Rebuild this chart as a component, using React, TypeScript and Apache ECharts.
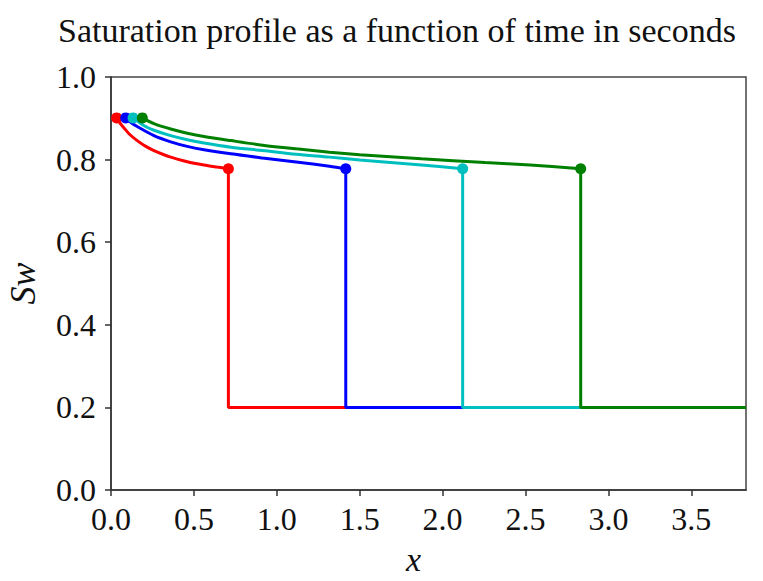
import React, { useEffect, useRef } from "react";
import * as echarts from "echarts";

const titleText = "Saturation profile as a function of time in seconds";
const xTicks = [0, 0.5, 1.0, 1.5, 2.0, 2.5, 3.0, 3.5];
const yTicks = [0, 0.2, 0.4, 0.6, 0.8, 1.0];
const xMax = 3.83;
const sInitial = 0.2;

const seriesNames = ["t1", "t2", "t3", "t4"];
const seriesColors = ["#ff0000", "#0000ff", "#00bfbf", "#008000"];

// rarefaction parts (x, Sw)
const redX = [0.034, 0.055, 0.08, 0.11, 0.158, 0.21, 0.259, 0.36, 0.46, 0.561, 0.64, 0.708];
const redY = [0.901, 0.888, 0.876, 0.862, 0.846, 0.832, 0.822, 0.806, 0.795, 0.787, 0.782, 0.778];
const blueX = [0.089, 0.12, 0.158, 0.259, 0.36, 0.46, 0.561, 0.723, 0.914, 1.117, 1.318, 1.416];
const blueY = [0.901, 0.89, 0.88, 0.858, 0.843, 0.832, 0.824, 0.814, 0.804, 0.794, 0.784, 0.778];
const cyanX = [0.133, 0.2, 0.259, 0.36, 0.46, 0.561, 0.723, 0.914, 1.117, 1.318, 1.5, 1.872, 2.121];
const cyanY = [0.901, 0.882, 0.871, 0.858, 0.848, 0.84, 0.83, 0.822, 0.813, 0.806, 0.799, 0.787, 0.778];
const greenX = [0.189, 0.259, 0.36, 0.46, 0.561, 0.723, 0.914, 1.117, 1.318, 1.5, 1.872, 2.255, 2.528, 2.833];
const greenY = [0.901, 0.887, 0.874, 0.864, 0.856, 0.846, 0.835, 0.826, 0.818, 0.812, 0.802, 0.793, 0.787, 0.778];

const curvesX = [redX, blueX, cyanX, greenX];
const curvesY = [redY, blueY, cyanY, greenY];

const serif = "Liberation Serif";

export default function App() {
  const ref = useRef<HTMLDivElement>(null);
  useEffect(() => {
    if (!ref.current) return;
    const chart = echarts.init(ref.current, undefined, { renderer: "svg" });
    const series: any[] = [];
    curvesX.forEach((xs, i) => {
      const ys = curvesY[i];
      const pts = xs.map((x, j) => [x, ys[j]]);
      const xf = xs[xs.length - 1];
      const yf = ys[ys.length - 1];
      series.push({
        name: seriesNames[i] + "_shock",
        type: "line",
        data: [[xf, yf], [xf, sInitial], [xMax, sInitial]],
        showSymbol: false,
        symbol: "none",
        lineStyle: { color: seriesColors[i], width: 3 },
        z: 2,
      });
      series.push({
        name: seriesNames[i],
        type: "line",
        data: pts,
        smooth: 0.3,
        showSymbol: false,
        symbol: "none",
        lineStyle: { color: seriesColors[i], width: 3 },
        z: 2,
      });
      series.push({
        name: seriesNames[i] + "_m",
        type: "scatter",
        data: [[xs[0], ys[0]], [xf, yf]],
        symbol: "circle",
        symbolSize: 11,
        itemStyle: { color: seriesColors[i], opacity: 1 },
        z: 2,
      });
    });
    chart.setOption({
      animation: false,
      backgroundColor: "#ffffff",
      title: {
        text: titleText,
        left: 53,
        top: 8,
        textStyle: { fontFamily: serif, fontSize: 34, fontWeight: "normal", color: "#111" },
      },
      grid: {
        left: 111,
        right: 17,
        top: 77,
        bottom: 91,
        show: true,
        outerBoundsMode: "none",
        containLabel: false,
        borderColor: "#444",
        borderWidth: 1.5,
        backgroundColor: "transparent",
      },
      xAxis: {
        type: "value",
        min: 0,
        max: xMax,
        interval: 0.5,
        name: "x",
        nameLocation: "middle",
        nameGap: 52,
        nameTextStyle: {
          fontFamily: serif,
          fontSize: 34,
          fontStyle: "italic",
          color: "#111",
          padding: [0, 30, 0, 0],
        },
        axisLine: { show: true, onZero: false, lineStyle: { color: "#333", width: 1.5 } },
        axisTick: { show: true, length: 6, inside: false, lineStyle: { color: "#333", width: 1.5 } },
        axisLabel: {
          fontFamily: serif,
          fontSize: 32,
          color: "#111",
          margin: 13,
          showMaxLabel: false,
          formatter: (v: number) => (xTicks.some((t) => Math.abs(t - v) < 1e-6) ? v.toFixed(1) : ""),
        },
        splitLine: { show: false },
      },
      yAxis: {
        type: "value",
        min: yTicks[0],
        max: yTicks[yTicks.length - 1],
        interval: 0.2,
        name: "Sw",
        nameLocation: "middle",
        nameGap: 70,
        nameTextStyle: { fontFamily: serif, fontSize: 36, fontStyle: "italic", color: "#111" },
        axisLine: { show: true, onZero: false, lineStyle: { color: "#333", width: 1.5 } },
        axisTick: { show: true, length: 6, inside: false, lineStyle: { color: "#333", width: 1.5 } },
        axisLabel: {
          fontFamily: serif,
          fontSize: 32,
          color: "#111",
          margin: 15,
          formatter: (v: number) => v.toFixed(1),
        },
        splitLine: { show: false },
      },
      series,
    });
    return () => chart.dispose();
  }, []);
  return (
    <div
      ref={ref}
      style={{ position: "fixed", left: 0, top: 0, width: 763, height: 581, background: "#fff" }}
    />
  );
}
